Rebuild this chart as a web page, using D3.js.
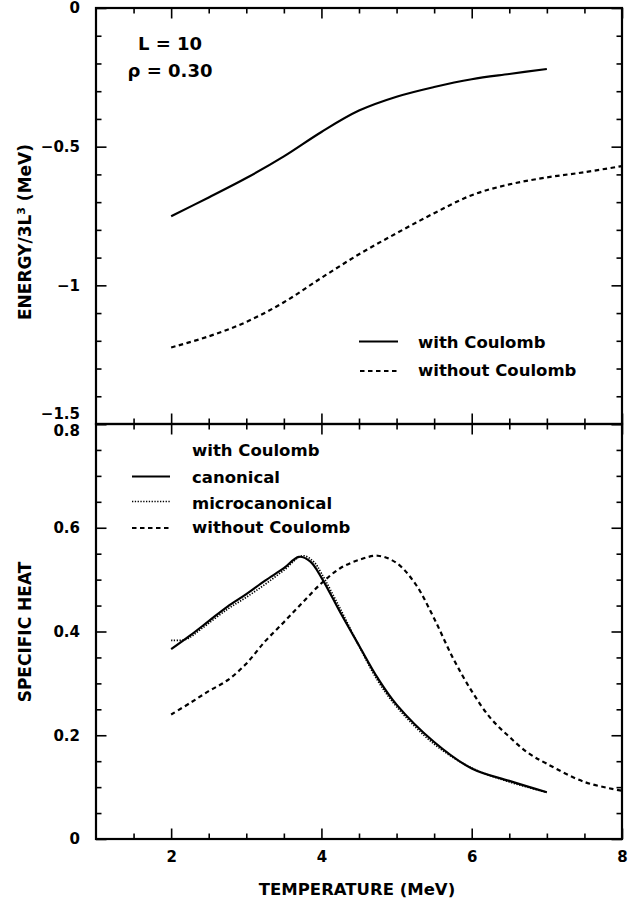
<!DOCTYPE html>
<html>
<head>
<meta charset="utf-8">
<script src="https://cdn.jsdelivr.net/npm/d3@7"></script>
<style>
  body { margin: 0; background: #fff; }
  text { font-family: 'DejaVu Sans', sans-serif; font-weight: bold; fill: #000; }
</style>
</head>
<body>
<script>
// ---- data ----
var temp_range = [1, 8];
var energy_range = [-1.5, 0];
var heat_range = [0, 0.8];

var temps_energy = [2, 2.5, 3, 3.5, 4, 4.5, 5, 5.5, 6, 6.5, 7, 7.5, 8];
var energy_with = [-0.751, -0.683, -0.613, -0.535, -0.447, -0.370, -0.320, -0.285, -0.257, -0.238, -0.220];
var energy_without = [-1.224, -1.184, -1.132, -1.061, -0.973, -0.888, -0.812, -0.740, -0.675, -0.636, -0.611, -0.592, -0.570];

var temps_canonical = [2, 2.25, 2.5, 2.75, 3, 3.25, 3.5, 3.7, 3.85, 4, 4.25, 4.5, 4.75, 5, 5.5, 6, 6.5, 7];
var heat_canonical = [0.366, 0.392, 0.420, 0.448, 0.472, 0.498, 0.522, 0.544, 0.535, 0.504, 0.437, 0.373, 0.310, 0.259, 0.187, 0.136, 0.112, 0.090];

var temps_micro = [2, 2.2, 2.4, 2.75, 3, 3.25, 3.5, 3.75, 3.9, 4, 4.25, 4.5, 4.75, 5, 5.5, 6, 6.5, 7];
var heat_micro = [0.383, 0.385, 0.405, 0.443, 0.466, 0.491, 0.518, 0.546, 0.534, 0.512, 0.444, 0.372, 0.305, 0.255, 0.183, 0.137, 0.110, 0.090];

var temps_without = [2, 2.25, 2.5, 2.75, 3, 3.25, 3.5, 3.75, 4, 4.25, 4.5, 4.75, 5, 5.25, 5.5, 5.75, 6, 6.25, 6.5, 6.75, 7, 7.5, 8];
var heat_without = [0.240, 0.262, 0.285, 0.306, 0.338, 0.381, 0.418, 0.456, 0.493, 0.522, 0.538, 0.546, 0.532, 0.492, 0.425, 0.349, 0.285, 0.233, 0.197, 0.166, 0.145, 0.110, 0.093];

var temp_major = [2, 4, 6, 8];
var temp_minor = [1.5, 2.5, 3, 3.5, 4.5, 5, 5.5, 6.5, 7, 7.5];
var energy_major = [0, -0.5, -1, -1.5];
var energy_minor = [-0.1, -0.2, -0.3, -0.4, -0.6, -0.7, -0.8, -0.9, -1.1, -1.2, -1.3, -1.4];
var heat_major = [0, 0.2, 0.4, 0.6, 0.8];
var heat_minor = [0.05, 0.1, 0.15, 0.25, 0.3, 0.35, 0.45, 0.5, 0.55, 0.65, 0.7, 0.75];

// ---- layout ----
var width = 643, height = 906;
var plot_left = 96, plot_right = 622;
var top_y = 8, mid_y = 424, bottom_y = 839;
var major_len = 10.5, minor_len = 5.5;
var tick_font = 15, label_font = 16.5;

var svg = d3.select('body').append('svg')
  .attr('width', width)
  .attr('height', height);

svg.append('rect').attr('width', width).attr('height', height).attr('fill', '#fff');

var x = d3.scaleLinear().domain(temp_range).range([plot_left, plot_right]);
var y_energy = d3.scaleLinear().domain(energy_range).range([mid_y, top_y]);
var y_heat = d3.scaleLinear().domain(heat_range).range([bottom_y, mid_y]);

function addAxis(axis, tx, ty, values, size, labelled, pad) {
  axis.tickValues(values)
    .tickSize(-size)
    .tickSizeOuter(0)
    .tickPadding(pad || 0)
    .tickFormat(labelled ? d3.format('') : '');
  var g = svg.append('g')
    .attr('transform', 'translate(' + tx + ',' + ty + ')')
    .call(axis);
  g.attr('font-family', null).attr('font-size', null);
  g.select('.domain').remove();
  g.selectAll('.tick line').attr('stroke', '#000').attr('stroke-width', 1.6);
  g.selectAll('.tick text').attr('font-size', tick_font).attr('fill', '#000');
  return g;
}

// top panel ticks ("-1.5" sits just above the shared edge, "0.8" just below)
addAxis(d3.axisLeft(y_energy), plot_left, 0, energy_major, major_len, true, 16)
  .selectAll('.tick text')
  .attr('transform', function(d) { return d === -1.5 ? 'translate(0,-10)' : null; });
addAxis(d3.axisLeft(y_energy), plot_left, 0, energy_minor, minor_len, false);
addAxis(d3.axisRight(y_energy), plot_right, 0, energy_major, major_len, false);
addAxis(d3.axisRight(y_energy), plot_right, 0, energy_minor, minor_len, false);
addAxis(d3.axisTop(x), 0, top_y, temp_major, major_len, false);
addAxis(d3.axisTop(x), 0, top_y, temp_minor, minor_len, false);
addAxis(d3.axisBottom(x), 0, mid_y, temp_major, major_len, false);
addAxis(d3.axisBottom(x), 0, mid_y, temp_minor, minor_len, false);

// bottom panel ticks
addAxis(d3.axisLeft(y_heat), plot_left, 0, heat_major, major_len, true, 16)
  .selectAll('.tick text')
  .attr('transform', function(d) { return d === 0.8 ? 'translate(0,7)' : null; });
addAxis(d3.axisLeft(y_heat), plot_left, 0, heat_minor, minor_len, false);
addAxis(d3.axisRight(y_heat), plot_right, 0, heat_major, major_len, false);
addAxis(d3.axisRight(y_heat), plot_right, 0, heat_minor, minor_len, false);
addAxis(d3.axisTop(x), 0, mid_y, temp_major, major_len, false);
addAxis(d3.axisTop(x), 0, mid_y, temp_minor, minor_len, false);
addAxis(d3.axisBottom(x), 0, bottom_y, temp_major, major_len, true, 12);
addAxis(d3.axisBottom(x), 0, bottom_y, temp_minor, minor_len, false);

// frames
[[top_y, mid_y], [mid_y, bottom_y]].forEach(function(p) {
  svg.append('rect')
    .attr('x', plot_left)
    .attr('y', p[0])
    .attr('width', plot_right - plot_left)
    .attr('height', p[1] - p[0])
    .attr('fill', 'none')
    .attr('stroke', '#000')
    .attr('stroke-width', 2.2);
});

// curves
var dash = '4.5,3.5', dots = '1.3,1.5';

function addCurve(xs, ys, yscale, dasharray, sw) {
  var pts = ys.map(function(v, i) { return [xs[i], v]; });
  var line = d3.line()
    .x(function(d) { return x(d[0]); })
    .y(function(d) { return yscale(d[1]); })
    .curve(d3.curveCatmullRom.alpha(0.5));
  svg.append('path')
    .datum(pts)
    .attr('d', line)
    .attr('fill', 'none')
    .attr('stroke', '#000')
    .attr('stroke-width', sw)
    .attr('stroke-dasharray', dasharray);
}

addCurve(temps_energy, energy_with, y_energy, null, 2.2);
addCurve(temps_energy, energy_without, y_energy, dash, 2.2);
addCurve(temps_micro, heat_micro, y_heat, dots, 1.7);
addCurve(temps_canonical, heat_canonical, y_heat, null, 2.2);
addCurve(temps_without, heat_without, y_heat, dash, 2.2);

// annotation
svg.append('text').attr('x', 170).attr('y', 50).attr('text-anchor', 'middle')
  .attr('font-size', 18).text('L = 10');
svg.append('text').attr('x', 170).attr('y', 77).attr('text-anchor', 'middle')
  .attr('font-size', 18).text('\u03c1 = 0.30');

// legends
function legendLine(x1, x2, y, dasharray, sw) {
  svg.append('line')
    .attr('x1', x1).attr('x2', x2).attr('y1', y).attr('y2', y)
    .attr('stroke', '#000').attr('stroke-width', sw)
    .attr('stroke-dasharray', dasharray);
}
function legendText(xp, yp, t) {
  svg.append('text').attr('x', xp).attr('y', yp).attr('font-size', label_font).text(t);
}

legendLine(359, 398, 341.5, null, 2.2);
legendText(418, 347.5, 'with Coulomb');
legendLine(360, 399, 371, dash, 2.2);
legendText(418, 375.5, 'without Coulomb');

legendText(192, 456, 'with Coulomb');
legendLine(132, 170, 476.5, null, 2.2);
legendText(192, 483, 'canonical');
legendLine(132, 170, 501.5, dots, 1.7);
legendText(192, 509, 'microcanonical');
legendLine(132, 171, 528, dash, 2.2);
legendText(192, 533, 'without Coulomb');

// axis titles
var energy_title = svg.append('text')
  .attr('transform', 'translate(31,232) rotate(-90)')
  .attr('text-anchor', 'middle')
  .attr('font-size', 17);
energy_title.append('tspan').text('ENERGY/3L');
energy_title.append('tspan').attr('dy', -6).attr('font-size', 11).text('3');
energy_title.append('tspan').attr('dy', 6).text(' (MeV)');

svg.append('text')
  .attr('transform', 'translate(31,632) rotate(-90)')
  .attr('text-anchor', 'middle')
  .attr('font-size', 17)
  .text('SPECIFIC HEAT');

svg.append('text')
  .attr('x', 357)
  .attr('y', 895)
  .attr('text-anchor', 'middle')
  .attr('font-size', 16.5)
  .text('TEMPERATURE (MeV)');
</script>
</body>
</html>
